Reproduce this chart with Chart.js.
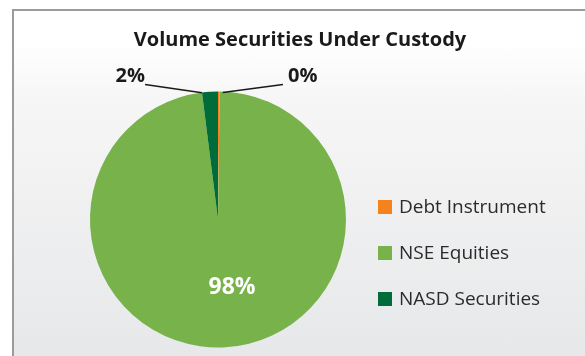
<!DOCTYPE html>
<html>
<head>
<meta charset="utf-8">
<script src="https://cdn.jsdelivr.net/npm/chart.js@4/dist/chart.umd.min.js"></script>
<style>
  html, body { margin: 0; padding: 0; background: #ffffff; }
  #wrap {
    position: absolute; left: 12px; top: 9px; width: 580px; height: 360px;
    border-left: 2px solid #9a9b9c; border-top: 2px solid #9a9b9c;
    background: linear-gradient(to bottom, #ffffff 0px, #ffffff 30px, #f6f6f7 90px, #e7e8e9 340px);
  }
  canvas { position: absolute; left: 0; top: 0; }
</style>
</head>
<body>
<div id="wrap"></div>
<canvas id="c" width="585" height="356"></canvas>
<script>
const categories = ['Debt Instrument', 'NSE Equities', 'NASD Securities'];
const shares = [0.2, 97.8, 2.0];
const colours = ['#f5821f', '#77b24b', '#006c3a'];
const chartTitle = 'Volume Securities Under Custody';

const FONT = '"Open Sans", Lato, sans-serif';

const annotate = {
  id: 'annotate',
  afterDraw(chart) {
    const ctx = chart.ctx;
    const arcs = chart.getDatasetMeta(0).data;
    ctx.save();

    // title
    ctx.fillStyle = '#1a1a1a';
    ctx.font = 'bold 20px ' + FONT;
    ctx.textAlign = 'center';
    ctx.textBaseline = 'middle';
    ctx.fillText(chartTitle, 300, 40);

    // percentage labels
    arcs.forEach((arc, i) => {
      const pct = Math.round(shares[i]) + '%';
      const mid = (arc.startAngle + arc.endAngle) / 2;
      const r = arc.outerRadius;
      if (shares[i] > 50) {
        ctx.fillStyle = '#ffffff';
        ctx.font = 'bold 23px ' + FONT;
        ctx.textAlign = 'center';
        ctx.fillText(pct, arc.x + 14, arc.y + 68);
        return;
      }
      const ex = arc.x + Math.cos(mid) * r;
      const ey = arc.y + Math.sin(mid) * r;
      const left = Math.cos(mid) < -0.01;
      const tx = left ? arc.x - 73 : arc.x + 65;
      const ty = arc.y - 135;
      ctx.strokeStyle = '#1a1a1a';
      ctx.lineWidth = 1.5;
      ctx.beginPath();
      ctx.moveTo(left ? ex - 8 : ex + 4, ey + 1);
      ctx.lineTo(tx, ty);
      ctx.stroke();
      ctx.fillStyle = '#1a1a1a';
      ctx.font = 'bold 20px ' + FONT;
      ctx.textAlign = left ? 'right' : 'left';
      ctx.fillText(pct, left ? tx : tx + 5, ty - 8);
    });

    // legend
    ctx.font = '19px ' + FONT;
    ctx.textAlign = 'left';
    categories.forEach((name, i) => {
      const y = 207 + i * 46;
      ctx.fillStyle = colours[i];
      ctx.fillRect(378, y - 7, 14, 14);
      ctx.fillStyle = '#2b2b2b';
      ctx.fillText(name, 399, y + 1);
    });
    ctx.restore();
  }
};

new Chart(document.getElementById('c'), {
  type: 'pie',
  data: {
    labels: categories,
    datasets: [{
      data: shares,
      backgroundColor: colours,
      borderWidth: 0
    }]
  },
  options: {
    responsive: false,
    animation: false,
    layout: { padding: { left: 90, top: 91, right: 239, bottom: 8 } },
    plugins: {
      legend: { display: false },
      title: { display: false },
      tooltip: { enabled: false }
    }
  },
  plugins: [annotate]
});
</script>
</body>
</html>
